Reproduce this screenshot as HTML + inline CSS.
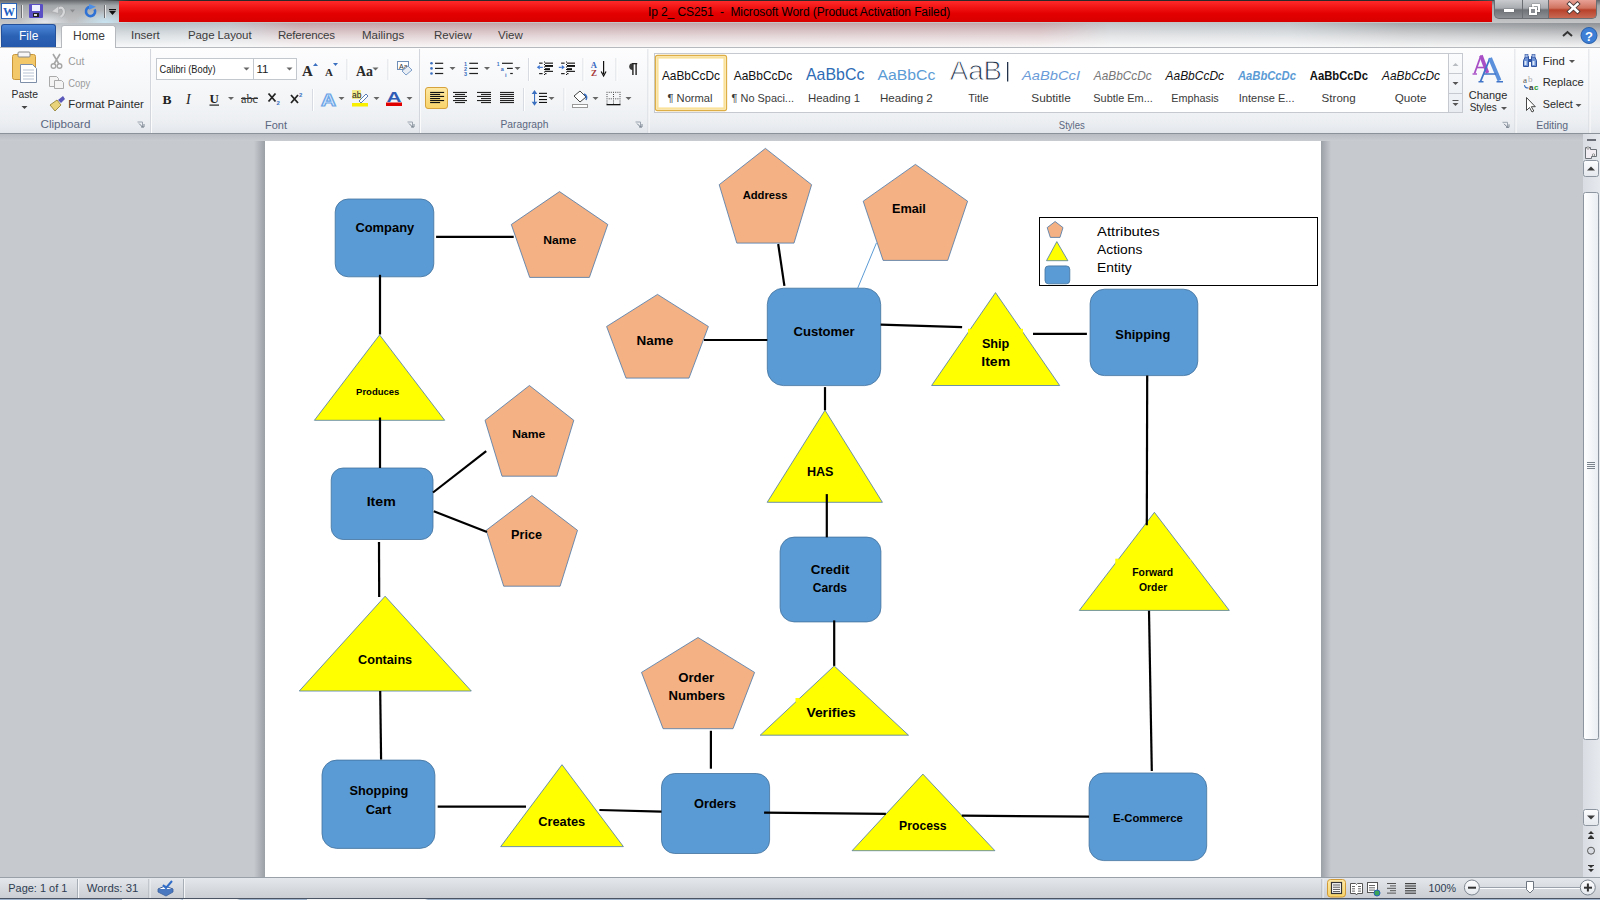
<!DOCTYPE html>
<html><head><meta charset="utf-8">
<style>
*{margin:0;padding:0;box-sizing:border-box}
html,body{width:1600px;height:900px;overflow:hidden;background:#c6c9ce;font-family:"Liberation Sans",sans-serif;font-size:11px;color:#1e395b}
.a{position:absolute}
.t{position:absolute;white-space:nowrap;line-height:1}
#title{left:0;top:0;width:1600px;height:23px;background:radial-gradient(ellipse 30px 12px at 105px 22px,rgba(200,230,245,.9),rgba(200,230,245,0)),radial-gradient(ellipse 25px 10px at 45px 22px,rgba(235,240,245,.8),rgba(235,240,245,0)),linear-gradient(#63676b,#a5a8ab 25%,#b4b6b8 60%,#c3c5c7)}
#red{left:119px;top:1px;width:1373px;height:21px;background:linear-gradient(#ff2a2a,#e40000 60%,#d80000)}
#tabs{left:0;top:23px;width:1600px;height:24px;background:linear-gradient(rgba(255,255,255,0),rgba(255,255,255,.55) 55%,rgba(255,255,255,.9)),linear-gradient(90deg,#c4c6c8 0,#b5bfc6 140px,#bcc3c9 230px,#c3a3a8 300px,#c6a7ab 1040px,#c3c6ca 1110px,#bfc5ca 1290px,#a4a7aa 1400px,#8e9195 1600px)}
#ribbon{left:0;top:47px;width:1600px;height:86px;background:linear-gradient(#fdfdfe,#f3f5f7 60%,#e9ecf0);border-top:1px solid #b6babf}
#rbot{left:0;top:133px;width:1600px;height:1px;background:#8c929a}
#doc{left:0;top:134px;width:1583px;height:743px;background:#c6c9ce}
#page{left:265px;top:141px;width:1056px;height:736px;background:#fff}
#status{left:0;top:877px;width:1600px;height:23px;background:linear-gradient(#e4e7eb,#d6dade 50%,#c9cdd3);border-top:1px solid #9aa0a8}
.gl{position:absolute;top:118px;font-size:11.5px;color:#3b4a63;text-align:center}
.sep{position:absolute;width:1px;background:linear-gradient(rgba(200,204,210,0),#c8ccd2 20%,#c8ccd2 80%,rgba(200,204,210,0))}
.gsep{position:absolute;top:49px;height:84px;width:1px;background:#d5d9de;box-shadow:1px 0 0 #fff}
.dd{position:absolute;width:0;height:0;border-left:3px solid transparent;border-right:3px solid transparent;border-top:3px solid #444}
</style></head><body>
<div class="a" id="title"></div>
<div class="a" id="red"></div>
<div class="t" style="left:648px;top:6px;font-size:12px;color:#000;letter-spacing:-0.1px">Ip 2_ CS251&nbsp; -&nbsp; Microsoft Word (Product Activation Failed)</div>
<div class="a" style="left:100px;top:0;width:1400px;height:1px;background:linear-gradient(90deg,rgba(40,40,40,0),#2a2a2a 30px,#2a2a2a 1370px,rgba(40,40,40,.3))"></div>
<div class="a" id="tabs"></div>
<div class="a" id="ribbon"></div>

<!-- QAT -->
<svg class="a" style="left:0;top:0" width="120" height="23">
 <rect x="1.5" y="3.5" width="15" height="15" fill="#fff" stroke="#2a63b8"/>
 <text x="3" y="16" font-family="Liberation Serif" font-weight="bold" font-size="13" fill="#1f5fc4" textLength="12" lengthAdjust="spacingAndGlyphs">W</text>
 <line x1="21.5" y1="5" x2="21.5" y2="18" stroke="#6d6f72"/><line x1="22.5" y1="5" x2="22.5" y2="18" stroke="#e8e8e8"/>
 <rect x="29" y="4" width="14" height="14" rx="1" fill="#5a4fc4"/>
 <rect x="32" y="5" width="8" height="6" fill="#eef0ff"/>
 <rect x="33" y="13" width="6" height="4" fill="#222"/><rect x="34" y="14" width="3" height="2" fill="#ddd"/>
 <path d="M57 10 Q61 5.5 63.5 9.5 Q65 14 60.5 17" fill="none" stroke="#8e9093" stroke-width="3.4" opacity=".45"/><path d="M57 10 Q61 5.5 63.5 9.5 Q65 14 60.5 17" fill="none" stroke="#d6d7d9" stroke-width="2.2"/>
 <path d="M51.5 11.5 L58.5 6 L58.5 13.5 Z" fill="#d6d7d9" stroke="#a2a4a7" stroke-width=".6"/>
 <path d="M70 9.5 L75 9.5 L72.5 12.5 Z" fill="#8a8c8f"/>
 <path d="M94.6 9.3 A4.6 4.6 0 1 1 90 6.9" fill="none" stroke="#2f72d6" stroke-width="2.6"/>
 <path d="M89 4 L96 6.8 L89 9.8 Z" fill="#4d8fe6"/>
 <line x1="104.5" y1="5" x2="104.5" y2="18" stroke="#6d6f72"/><line x1="105.5" y1="5" x2="105.5" y2="18" stroke="#e8e8e8"/>
 <rect x="109" y="9" width="7" height="1.2" fill="#111"/><path d="M109 11 L116 11 L112.5 15 Z" fill="#111"/>
</svg>
<!-- window buttons -->
<div class="a" style="left:1494px;top:0;width:103px;height:19px;border:1px solid #6b6e72;border-top:none;border-radius:0 0 5px 5px;background:linear-gradient(#c9cbce,#a9acb0 45%,#6f7378 55%,#8d9196);overflow:hidden">
 <div class="a" style="left:54px;top:0;width:48px;height:18px;background:linear-gradient(#e8a196,#d0735f 45%,#b8412a 55%,#c86a55)"></div>
 <div class="a" style="left:27px;top:0;width:1px;height:18px;background:#6b6e72"></div>
 <div class="a" style="left:53px;top:0;width:1px;height:18px;background:#6b6e72"></div>
 <div class="a" style="left:9px;top:9px;width:10px;height:3px;background:#fff;box-shadow:0 0 1px #333"></div>
 <div class="a" style="left:37px;top:4px;width:8px;height:8px;border:2px solid #fff;box-shadow:0 0 1px #333"></div>
 <div class="a" style="left:34px;top:7px;width:8px;height:8px;border:2px solid #fff;box-shadow:0 0 1px #333;background:#8a8e93"></div>
 <svg class="a" style="left:71px;top:1px" width="16" height="14"><path d="M3.5 3 L11.5 10.5 M11.5 3 L3.5 10.5" stroke="#4a3a3a" stroke-width="4.4" stroke-linecap="square"/><path d="M3.5 3 L11.5 10.5 M11.5 3 L3.5 10.5" stroke="#fff" stroke-width="2.6" stroke-linecap="square"/></svg>
</div>
<!-- tabs -->
<div class="a" style="left:1px;top:24px;width:55px;height:23px;border-radius:3px 3px 0 0;background:linear-gradient(#4c87d9,#2c62b4 50%,#2559ab);border:1px solid #24509a;border-bottom:none"></div>
<div class="t" style="left:19px;top:30px;font-size:12px;color:#fff">File</div>
<div class="a" style="left:61px;top:25px;width:55px;height:23px;border-radius:3px 3px 0 0;background:#fff;border:1px solid #b6babf;border-bottom:none"></div>
<div class="t" style="left:73px;top:30px;font-size:12px;color:#3c3c3c">Home</div>
<div class="a" style="left:62px;top:46px;width:53px;height:3px;background:#fff"></div>
<div class="t" style="left:131px;top:30px;font-size:11.5px;color:#3c3c3c">Insert</div>
<div class="t" style="left:188px;top:30px;font-size:11.5px;color:#3c3c3c;letter-spacing:-0.1px">Page Layout</div>
<div class="t" style="left:278px;top:30px;font-size:11.5px;color:#3c3c3c;letter-spacing:-0.2px">References</div>
<div class="t" style="left:362px;top:30px;font-size:11.5px;color:#3c3c3c">Mailings</div>
<div class="t" style="left:434px;top:30px;font-size:11.5px;color:#3c3c3c">Review</div>
<div class="t" style="left:498px;top:30px;font-size:11.5px;color:#3c3c3c">View</div>
<svg class="a" style="left:1560px;top:26px" width="40" height="20">
 <path d="M3 10 L7.5 6 L12 10" fill="none" stroke="#333" stroke-width="2"/>
 <circle cx="29" cy="9.5" r="8" fill="#3d7fd6" stroke="#2a5fa8"/>
 <text x="29" y="14.5" text-anchor="middle" font-size="13" font-weight="bold" fill="#fff">?</text>
</svg>

<!--RIBBON-->
<svg class="a" style="left:0;top:0" width="1600" height="134" font-family="Liberation Sans, sans-serif"><defs><linearGradient id="lb" x1="0" y1="0" x2="0" y2="1"><stop offset="0" stop-color="#eef0f3" stop-opacity="0"/><stop offset="1" stop-color="#e2e6eb"/></linearGradient><linearGradient id="gold" x1="0" y1="0" x2="0" y2="1"><stop offset="0" stop-color="#fde8a4"/><stop offset="1" stop-color="#f9d36a"/></linearGradient><linearGradient id="sb" x1="0" y1="0" x2="0" y2="1"><stop offset="0" stop-color="#fbfcfd"/><stop offset="1" stop-color="#e9edf2"/></linearGradient></defs>
<rect x="0" y="117" width="1600" height="16" fill="url(#lb)"/>
<rect x="12.5" y="54.5" width="23" height="25" rx="2" fill="#f2c869" stroke="#c9973a"/>
<rect x="18" y="52" width="12" height="5" rx="1" fill="#f6f6f6" stroke="#888"/>
<path d="M20.5 64.5 h12 l4 4 v14 h-16 z" fill="#fff" stroke="#7d8fa8"/>
<line x1="23" y1="70" x2="34" y2="70" stroke="#b9c4d4"/>
<line x1="23" y1="73" x2="34" y2="73" stroke="#b9c4d4"/>
<line x1="23" y1="76" x2="34" y2="76" stroke="#b9c4d4"/>
<line x1="23" y1="79" x2="34" y2="79" stroke="#b9c4d4"/>
<text x="11.5" y="98.3" font-size="11.8" fill="#2b2b2b" text-anchor="start" textLength="26.5" lengthAdjust="spacingAndGlyphs" >Paste</text>
<path d="M21.5 106.0 h6 l-3 3 z" fill="#444"/>
<path d="M53 54 L59 64 M60 54 L54 64" stroke="#a6a6a6" stroke-width="1.6" fill="none"/><circle cx="53.5" cy="66" r="2.3" fill="none" stroke="#a6a6a6" stroke-width="1.4"/><circle cx="59.5" cy="66" r="2.3" fill="none" stroke="#a6a6a6" stroke-width="1.4"/>
<text x="68.3" y="64.7" font-size="11.5" fill="#9a9a9a" text-anchor="start" textLength="16.0" lengthAdjust="spacingAndGlyphs" >Cut</text>
<path d="M49.5 76.5 h7 l2 2 v8 h-9 z" fill="#f4f4f4" stroke="#aaa"/><path d="M54.5 80.5 h7 l2 2 v6 h-9 z" fill="#f4f4f4" stroke="#aaa"/>
<text x="68.3" y="86.7" font-size="11.5" fill="#9a9a9a" text-anchor="start" textLength="22.0" lengthAdjust="spacingAndGlyphs" >Copy</text>
<path d="M50 105 l7 -5 l4 5 l-6 6 z" fill="#e8d27a" stroke="#8c7a2a" stroke-width=".8"/><path d="M58 100 l5 -4 l2 3 l-4 4 z" fill="#5a58b8"/>
<text x="68.3" y="108.3" font-size="11.5" fill="#2b2b2b" text-anchor="start" textLength="75.5" lengthAdjust="spacingAndGlyphs" >Format Painter</text>
<text x="65.5" y="128.3" font-size="11.5" fill="#5b6780" text-anchor="middle" textLength="50.0" lengthAdjust="spacingAndGlyphs" >Clipboard</text>
<path d="M137.5 122.0 h5 v5" fill="none" stroke="#9aa3ae" stroke-width="1"/><path d="M139.0 123.5 l4 4 M141.0 127.0 h3 v-3" fill="none" stroke="#7b8591"/>
<rect x="150.0" y="49" width="1" height="84" fill="#d3d7dd"/><rect x="151.0" y="49" width="1" height="84" fill="#fbfbfc"/>
<rect x="156.5" y="58.5" width="97" height="21" fill="#fff" stroke="#c3c8cf"/><rect x="253.5" y="58.5" width="43" height="21" fill="#fff" stroke="#c3c8cf"/>
<text x="159.5" y="72.9" font-size="11.5" fill="#1b1b1b" text-anchor="start" textLength="56.0" lengthAdjust="spacingAndGlyphs" >Calibri (Body)</text>
<path d="M243.5 67.5 h6 l-3 3 z" fill="#666"/>
<path d="M286.5 67.5 h6 l-3 3 z" fill="#666"/>
<text x="256.5" y="72.9" font-size="11.5" fill="#1b1b1b" text-anchor="start" >11</text>
<text x="302" y="76" font-family="Liberation Serif" font-weight="bold" font-size="15" fill="#2a2a2a">A</text><path d="M313 66 l2.5 -3 l2.5 3 z" fill="#3a6fc0"/>
<text x="325" y="76" font-family="Liberation Serif" font-weight="bold" font-size="11" fill="#2a2a2a">A</text><path d="M333 63 h5 l-2.5 3 z" fill="#3a6fc0"/>
<rect x="346.5" y="59.0" width="1" height="21.0" fill="#d8dce2"/><rect x="347.5" y="59.0" width="1" height="21.0" fill="#fff"/>
<text x="356" y="76" font-family="Liberation Serif" font-weight="bold" font-size="14" fill="#2a2a2a" textLength="17" lengthAdjust="spacingAndGlyphs">Aa</text>
<path d="M372.5 67.5 h6 l-3 3 z" fill="#666"/>
<rect x="387.5" y="59.0" width="1" height="21.0" fill="#d8dce2"/><rect x="388.5" y="59.0" width="1" height="21.0" fill="#fff"/>
<rect x="397.5" y="61.5" width="11" height="8" fill="#fff" stroke="#6f8fb8"/><text x="399" y="68.5" font-size="7" fill="#333">Aa</text><path d="M402 71 l6 -5 l4 4 l-6 5 z" fill="#e9eef5" stroke="#7a9cc8"/>
<text x="162.5" y="103.5" font-family="Liberation Serif" font-weight="bold" font-size="13.5" fill="#222">B</text>
<text x="186" y="103.5" font-family="Liberation Serif" font-style="italic" font-size="14" fill="#222">I</text>
<text x="209.5" y="102.5" font-family="Liberation Serif" font-weight="bold" font-size="13" fill="#222">U</text><rect x="209.5" y="104.5" width="9.5" height="1.2" fill="#222"/>
<path d="M228.0 97.0 h6 l-3 3 z" fill="#666"/>
<text x="241" y="102.5" font-family="Liberation Serif" font-size="11.5" fill="#333" textLength="17" lengthAdjust="spacingAndGlyphs">abc</text><rect x="241" y="98" width="17" height="1" fill="#333"/>
<path d="M268.5 93.5 l7 8 M275.5 93.5 l-7 8" stroke="#222" stroke-width="1.8"/><text x="276.5" y="105" font-size="6" font-weight="bold" fill="#3a6fc0">2</text>
<path d="M291 95 l7 8 M298 95 l-7 8" stroke="#222" stroke-width="1.8"/><text x="299" y="97" font-size="6" font-weight="bold" fill="#3a6fc0">2</text>
<rect x="312.0" y="89.0" width="1" height="22.0" fill="#d8dce2"/><rect x="313.0" y="89.0" width="1" height="22.0" fill="#fff"/>
<text x="321" y="106" font-size="17" font-weight="bold" fill="#dcecff" stroke="#6ea6e6" stroke-width="1.2" textLength="15" lengthAdjust="spacingAndGlyphs">A</text>
<path d="M338.5 97.0 h6 l-3 3 z" fill="#666"/>
<rect x="352" y="90" width="9" height="9" fill="#f3ec88"/><text x="352" y="98" font-size="8.5" fill="#222">ab</text><path d="M359 101 l7 -7 l2 2 l-7 7 z" fill="#fff" stroke="#5b7db5"/><rect x="352" y="103" width="16" height="3.5" fill="#f8f000"/>
<path d="M373.5 97.0 h6 l-3 3 z" fill="#666"/>
<text x="386.5" y="101.5" font-size="15" font-weight="bold" fill="#2f5cb5" textLength="15" lengthAdjust="spacingAndGlyphs">A</text><rect x="386" y="102.5" width="16" height="3.5" fill="#e00000"/>
<path d="M406.5 97.0 h6 l-3 3 z" fill="#666"/>
<text x="276.0" y="128.5" font-size="11.5" fill="#5b6780" text-anchor="middle" textLength="22.0" lengthAdjust="spacingAndGlyphs" >Font</text>
<path d="M407.5 122.0 h5 v5" fill="none" stroke="#9aa3ae" stroke-width="1"/><path d="M409.0 123.5 l4 4 M411.0 127.0 h3 v-3" fill="none" stroke="#7b8591"/>
<rect x="419.0" y="49" width="1" height="84" fill="#d3d7dd"/><rect x="420.0" y="49" width="1" height="84" fill="#fbfbfc"/>
<circle cx="431.5" cy="63.3" r="1.3" fill="#3a6fc0"/>
<circle cx="431.5" cy="68.4" r="1.3" fill="#3a6fc0"/>
<circle cx="431.5" cy="73.5" r="1.3" fill="#3a6fc0"/>
<rect x="435.0" y="62.7" width="8.2" height="1.2" fill="#222"/>
<rect x="435.0" y="67.8" width="8.2" height="1.2" fill="#222"/>
<rect x="435.0" y="72.9" width="8.2" height="1.2" fill="#222"/>
<path d="M449.5 67.0 h6 l-3 3 z" fill="#666"/>
<text x="464" y="65.5" font-size="5.5" font-weight="bold" fill="#3a6fc0">1</text>
<text x="464" y="70.6" font-size="5.5" font-weight="bold" fill="#3a6fc0">2</text>
<text x="464" y="75.7" font-size="5.5" font-weight="bold" fill="#3a6fc0">3</text>
<rect x="469.3" y="62.7" width="8.7" height="1.2" fill="#222"/>
<rect x="469.3" y="67.8" width="8.7" height="1.2" fill="#222"/>
<rect x="469.3" y="72.9" width="8.7" height="1.2" fill="#222"/>
<path d="M484.0 67.0 h6 l-3 3 z" fill="#666"/>
<text x="496.8" y="65.5" font-size="5" font-weight="bold" fill="#3a6fc0">1</text><text x="500.8" y="71" font-size="5.5" font-weight="bold" fill="#3a6fc0">a</text><text x="505" y="76.5" font-size="5.5" font-weight="bold" fill="#3a6fc0">i</text>
<rect x="502" y="62.7" width="10.8" height="1.2" fill="#222"/><rect x="507" y="67.8" width="5.8" height="1.2" fill="#222"/><rect x="510.2" y="72.9" width="2.6" height="1.2" fill="#222"/>
<path d="M514.5 67.0 h6 l-3 3 z" fill="#666"/>
<rect x="528.0" y="58.0" width="1" height="23.0" fill="#d8dce2"/><rect x="529.0" y="58.0" width="1" height="23.0" fill="#fff"/>
<rect x="539.1" y="62.6" width="3.5" height="1.1" fill="#111"/><rect x="539.1" y="73.1" width="3.5" height="1.1" fill="#111"/>
<rect x="545.0" y="62.6" width="8" height="1.1" fill="#111"/><rect x="545.0" y="65" width="8" height="1.9" fill="#111"/><rect x="545.0" y="68.2" width="5" height="1.9" fill="#111"/><rect x="545.0" y="70.8" width="8" height="1.1" fill="#111"/><rect x="545.0" y="73.1" width="1.5" height="1.1" fill="#111"/>
<line x1="544.5" y1="61.5" x2="544.5" y2="76.5" stroke="#111" stroke-width="1" stroke-dasharray="1 1.5"/>
<path d="M539.8 65 l-3 2.3 l3 2.3 z" fill="#3d74d0"/><rect x="539.8" y="66.8" width="3" height="1.1" fill="#3d74d0"/>
<rect x="561.1" y="62.6" width="3.5" height="1.1" fill="#111"/><rect x="561.1" y="73.1" width="3.5" height="1.1" fill="#111"/>
<rect x="567.0" y="62.6" width="8" height="1.1" fill="#111"/><rect x="567.0" y="65" width="8" height="1.9" fill="#111"/><rect x="567.0" y="68.2" width="5" height="1.9" fill="#111"/><rect x="567.0" y="70.8" width="8" height="1.1" fill="#111"/><rect x="567.0" y="73.1" width="1.5" height="1.1" fill="#111"/>
<line x1="566.5" y1="61.5" x2="566.5" y2="76.5" stroke="#111" stroke-width="1" stroke-dasharray="1 1.5"/>
<path d="M561.8 65 l3 2.3 l-3 2.3 z" fill="#3d74d0"/><rect x="558.8" y="66.8" width="3" height="1.1" fill="#3d74d0"/>
<rect x="582.5" y="58.0" width="1" height="23.0" fill="#d8dce2"/><rect x="583.5" y="58.0" width="1" height="23.0" fill="#fff"/>
<text x="590.8" y="67.8" font-family="Liberation Serif" font-size="8.5" font-weight="bold" fill="#3466c2">A</text><text x="591" y="76.2" font-family="Liberation Serif" font-size="9" font-weight="bold" fill="#a63838">Z</text><path d="M603.6 61 v13" stroke="#111" stroke-width="1.2"/><path d="M601.2 71.5 l2.4 4.5 l2.4 -4.5" fill="none" stroke="#111" stroke-width="1.2"/>
<rect x="615.5" y="58.0" width="1" height="23.0" fill="#d8dce2"/><rect x="616.5" y="58.0" width="1" height="23.0" fill="#fff"/>
<path d="M632.6 63.2 a3.3 3.3 0 0 0 0 6.8 z" fill="#3a3a3a"/><rect x="632.2" y="63" width="5" height="1.3" fill="#222"/><rect x="632.2" y="63" width="1.4" height="12" fill="#222"/><rect x="635.4" y="63" width="1.4" height="12" fill="#222"/>
<rect x="425.5" y="87.5" width="22" height="21" rx="2.5" fill="url(#gold)" stroke="#d6a23c"/>
<rect x="430.1" y="91.9" width="14" height="1.1" fill="#111"/>
<rect x="453.0" y="91.9" width="14" height="1.1" fill="#222"/>
<rect x="477.0" y="91.9" width="14" height="1.1" fill="#222"/>
<rect x="500" y="91.9" width="14" height="1.1" fill="#222"/>
<rect x="430.1" y="93.9" width="10" height="1.1" fill="#111"/>
<rect x="455.0" y="93.9" width="10" height="1.1" fill="#222"/>
<rect x="481.0" y="93.9" width="10" height="1.1" fill="#222"/>
<rect x="500" y="93.9" width="14" height="1.1" fill="#222"/>
<rect x="430.1" y="95.9" width="14" height="1.1" fill="#111"/>
<rect x="453.0" y="95.9" width="14" height="1.1" fill="#222"/>
<rect x="477.0" y="95.9" width="14" height="1.1" fill="#222"/>
<rect x="500" y="95.9" width="14" height="1.1" fill="#222"/>
<rect x="430.1" y="98.0" width="10" height="1.1" fill="#111"/>
<rect x="455.0" y="98.0" width="10" height="1.1" fill="#222"/>
<rect x="481.0" y="98.0" width="10" height="1.1" fill="#222"/>
<rect x="500" y="98.0" width="14" height="1.1" fill="#222"/>
<rect x="430.1" y="100.0" width="14" height="1.1" fill="#111"/>
<rect x="453.0" y="100.0" width="14" height="1.1" fill="#222"/>
<rect x="477.0" y="100.0" width="14" height="1.1" fill="#222"/>
<rect x="500" y="100.0" width="14" height="1.1" fill="#222"/>
<rect x="430.1" y="102.0" width="10" height="1.1" fill="#111"/>
<rect x="455.0" y="102.0" width="10" height="1.1" fill="#222"/>
<rect x="481.0" y="102.0" width="10" height="1.1" fill="#222"/>
<rect x="500" y="102.0" width="14" height="1.1" fill="#222"/>
<rect x="523.0" y="88.0" width="1" height="23.0" fill="#d8dce2"/><rect x="524.0" y="88.0" width="1" height="23.0" fill="#fff"/>
<path d="M534.5 90 l-2.8 4 h5.6 z M534.5 105.8 l-2.8 -4 h5.6 z" fill="#3a6fc0"/><rect x="534" y="93" width="1.1" height="10" fill="#3a6fc0"/>
<rect x="539" y="92.8" width="8" height="1.1" fill="#111"/>
<rect x="539" y="95.9" width="8" height="1.1" fill="#111"/>
<rect x="539" y="99.0" width="8" height="1.1" fill="#111"/>
<rect x="539" y="101.9" width="8" height="1.1" fill="#111"/>
<path d="M548.5 97.0 h6 l-3 3 z" fill="#666"/>
<rect x="563.5" y="88.0" width="1" height="23.0" fill="#d8dce2"/><rect x="564.5" y="88.0" width="1" height="23.0" fill="#fff"/>
<path d="M574 96 l6 -5 l6 6 l-6 5 z" fill="#fff" stroke="#444"/><path d="M584 94 q4 2 2 6" fill="none" stroke="#3a6fc0" stroke-width="1.5"/><rect x="572.5" y="104.5" width="15" height="3" fill="#fff" stroke="#999"/>
<path d="M592.5 97.0 h6 l-3 3 z" fill="#666"/>
<rect x="606.5" y="91.8" width="1" height="1" fill="#444"/><rect x="606.5" y="94.0" width="1" height="1" fill="#444"/><rect x="606.5" y="96.1" width="1" height="1" fill="#444"/><rect x="606.5" y="98.3" width="1" height="1" fill="#444"/><rect x="606.5" y="100.5" width="1" height="1" fill="#444"/><rect x="606.5" y="102.6" width="1" height="1" fill="#444"/><rect x="608.7" y="91.8" width="1" height="1" fill="#444"/><rect x="608.7" y="98.3" width="1" height="1" fill="#444"/><rect x="610.8" y="91.8" width="1" height="1" fill="#444"/><rect x="610.8" y="98.3" width="1" height="1" fill="#444"/><rect x="613.0" y="91.8" width="1" height="1" fill="#444"/><rect x="613.0" y="94.0" width="1" height="1" fill="#444"/><rect x="613.0" y="96.1" width="1" height="1" fill="#444"/><rect x="613.0" y="98.3" width="1" height="1" fill="#444"/><rect x="613.0" y="100.5" width="1" height="1" fill="#444"/><rect x="613.0" y="102.6" width="1" height="1" fill="#444"/><rect x="615.2" y="91.8" width="1" height="1" fill="#444"/><rect x="615.2" y="98.3" width="1" height="1" fill="#444"/><rect x="617.4" y="91.8" width="1" height="1" fill="#444"/><rect x="617.4" y="98.3" width="1" height="1" fill="#444"/><rect x="619.5" y="91.8" width="1" height="1" fill="#444"/><rect x="619.5" y="94.0" width="1" height="1" fill="#444"/><rect x="619.5" y="96.1" width="1" height="1" fill="#444"/><rect x="619.5" y="98.3" width="1" height="1" fill="#444"/><rect x="619.5" y="100.5" width="1" height="1" fill="#444"/><rect x="619.5" y="102.6" width="1" height="1" fill="#444"/><rect x="606.5" y="104" width="14" height="1.3" fill="#111"/>
<path d="M625.5 97.0 h6 l-3 3 z" fill="#666"/>
<text x="524.5" y="128.4" font-size="11.5" fill="#5b6780" text-anchor="middle" textLength="48.0" lengthAdjust="spacingAndGlyphs" >Paragraph</text>
<path d="M635.5 122.0 h5 v5" fill="none" stroke="#9aa3ae" stroke-width="1"/><path d="M637.0 123.5 l4 4 M639.0 127.0 h3 v-3" fill="none" stroke="#7b8591"/>
<rect x="647.5" y="49" width="1" height="84" fill="#d3d7dd"/><rect x="648.5" y="49" width="1" height="84" fill="#fbfbfc"/>
<rect x="654.5" y="53.5" width="808" height="59" fill="#fff" stroke="#c6cad0"/>
<rect x="1448.5" y="53.5" width="14" height="59" fill="url(#sb)" stroke="#c6cad0"/><line x1="1449" y1="73.5" x2="1462" y2="73.5" stroke="#c6cad0"/><line x1="1449" y1="93.5" x2="1462" y2="93.5" stroke="#c6cad0"/>
<path d="M1452.5 66 l3 -3 l3 3 z" fill="#b8bcc2"/><path d="M1452.5 82 h6 l-3 3 z" fill="#555"/><rect x="1452.5" y="100" width="6" height="1" fill="#555"/><path d="M1452.5 103 h6 l-3 3 z" fill="#555"/>
<rect x="655.5" y="55.5" width="71" height="55" rx="2" fill="#fff" stroke="#dcae45" stroke-width="1.3"/><rect x="657.5" y="57.5" width="67" height="51" fill="none" stroke="#fbe29a" stroke-width="2.2"/>
<text x="661.9" y="80.3" font-size="13" fill="#111" textLength="58.1" lengthAdjust="spacingAndGlyphs">AaBbCcDc</text>
<text x="667.5" y="102.2" font-size="11.5" fill="#3a3a3a" text-anchor="start" textLength="45.0" lengthAdjust="spacingAndGlyphs" >&#182; Normal</text>
<text x="733.7" y="80.3" font-size="13" fill="#111" textLength="58.5" lengthAdjust="spacingAndGlyphs">AaBbCcDc</text>
<text x="731.6" y="102.2" font-size="11.5" fill="#3a3a3a" text-anchor="start" textLength="62.4" lengthAdjust="spacingAndGlyphs" >&#182; No Spaci...</text>
<text x="805.9" y="80.3" font-size="17" fill="#2e6cb5" textLength="58.5" lengthAdjust="spacingAndGlyphs">AaBbCc</text>
<text x="808.0" y="102.2" font-size="11.5" fill="#3a3a3a" text-anchor="start" textLength="52.0" lengthAdjust="spacingAndGlyphs" >Heading 1</text>
<text x="877.5" y="80.3" font-size="15.5" fill="#5b9bd5" textLength="57.8" lengthAdjust="spacingAndGlyphs">AaBbCc</text>
<text x="880.0" y="102.2" font-size="11.5" fill="#3a3a3a" text-anchor="start" textLength="52.8" lengthAdjust="spacingAndGlyphs" >Heading 2</text>
<text x="949.7" y="80.3" font-size="27" fill="#22324a" stroke="#fff" stroke-width="0.9" textLength="52.3" lengthAdjust="spacingAndGlyphs">AaB</text>
<text x="968.2" y="102.2" font-size="11.5" fill="#3a3a3a" text-anchor="start" textLength="20.4" lengthAdjust="spacingAndGlyphs" >Title</text>
<text x="1022.0" y="80.3" font-size="13" font-style="italic" fill="#6a9bd8" textLength="58.0" lengthAdjust="spacingAndGlyphs">AaBbCcI</text>
<text x="1031.3" y="102.2" font-size="11.5" fill="#3a3a3a" text-anchor="start" textLength="39.4" lengthAdjust="spacingAndGlyphs" >Subtitle</text>
<text x="1093.8" y="80.3" font-size="13" font-style="italic" fill="#777" textLength="57.8" lengthAdjust="spacingAndGlyphs">AaBbCcDc</text>
<text x="1093.3" y="102.2" font-size="11.5" fill="#3a3a3a" text-anchor="start" textLength="59.5" lengthAdjust="spacingAndGlyphs" >Subtle Em...</text>
<text x="1165.5" y="80.3" font-size="13" font-style="italic" fill="#111" textLength="58.5" lengthAdjust="spacingAndGlyphs">AaBbCcDc</text>
<text x="1171.3" y="102.2" font-size="11.5" fill="#3a3a3a" text-anchor="start" textLength="47.4" lengthAdjust="spacingAndGlyphs" >Emphasis</text>
<text x="1237.9" y="80.3" font-size="13" font-style="italic" font-weight="bold" fill="#5b9bd5" textLength="58.1" lengthAdjust="spacingAndGlyphs">AaBbCcDc</text>
<text x="1238.8" y="102.2" font-size="11.5" fill="#3a3a3a" text-anchor="start" textLength="55.7" lengthAdjust="spacingAndGlyphs" >Intense E...</text>
<text x="1309.8" y="80.3" font-size="13" font-weight="bold" fill="#111" textLength="58.2" lengthAdjust="spacingAndGlyphs">AaBbCcDc</text>
<text x="1321.6" y="102.2" font-size="11.5" fill="#3a3a3a" text-anchor="start" textLength="34.1" lengthAdjust="spacingAndGlyphs" >Strong</text>
<text x="1382.0" y="80.3" font-size="13" font-style="italic" fill="#111" textLength="58.0" lengthAdjust="spacingAndGlyphs">AaBbCcDc</text>
<text x="1394.7" y="102.2" font-size="11.5" fill="#3a3a3a" text-anchor="start" textLength="31.9" lengthAdjust="spacingAndGlyphs" >Quote</text>
<rect x="1007" y="62" width="1.3" height="19.5" fill="#22324a"/><rect x="949" y="55" width="60" height="6.5" fill="#fff"/>
<text x="1071.8" y="128.9" font-size="11.5" fill="#5b6780" text-anchor="middle" textLength="26.0" lengthAdjust="spacingAndGlyphs" >Styles</text>
<path d="M1502.5 122.3 h5 v5" fill="none" stroke="#9aa3ae" stroke-width="1"/><path d="M1504.0 123.8 l4 4 M1506.0 127.3 h3 v-3" fill="none" stroke="#7b8591"/>
<g fill="none" stroke-linecap="butt"><path d="M1474.5 73.5 L1481 55.5" stroke="#a84fc6" stroke-width="1.8"/><path d="M1481 55.5 L1487.5 73" stroke="#a84fc6" stroke-width="3.6"/><path d="M1476.5 67.5 h8" stroke="#a84fc6" stroke-width="1.6"/><path d="M1472.5 74 h4.5" stroke="#a84fc6" stroke-width="1.4"/><path d="M1480.5 81.5 L1490 58" stroke="#3f74c8" stroke-width="1.8"/><path d="M1490 58 L1499.5 80.5" stroke="#5a90dc" stroke-width="4"/><path d="M1484 74 h12" stroke="#3f74c8" stroke-width="1.5"/><path d="M1478.5 81.8 h5 M1496.5 81.8 h6.5" stroke="#3f74c8" stroke-width="1.4"/></g>
<text x="1468.8" y="98.6" font-size="11.5" fill="#2b2b2b" text-anchor="start" textLength="38.5" lengthAdjust="spacingAndGlyphs" >Change</text>
<text x="1469.7" y="111.4" font-size="11.5" fill="#2b2b2b" text-anchor="start" textLength="27.0" lengthAdjust="spacingAndGlyphs" >Styles</text>
<path d="M1501.0 107.0 h6 l-3 3 z" fill="#555"/>
<rect x="1514.5" y="49" width="1" height="84" fill="#d3d7dd"/><rect x="1515.5" y="49" width="1" height="84" fill="#fbfbfc"/>
<path d="M1523.5 66.5 v-6 l2 -4 h3 v10 z M1531.5 66.5 v-10 h3 l2 4 v6 z" fill="#6d93d6" stroke="#2f52a0"/><rect x="1525" y="54.5" width="3" height="3" fill="#9fb8e6" stroke="#2f52a0" stroke-width=".6"/><rect x="1532" y="54.5" width="3" height="3" fill="#9fb8e6" stroke="#2f52a0" stroke-width=".6"/><rect x="1528.5" y="59" width="3" height="3" fill="#2f52a0"/><rect x="1524.5" y="61" width="2" height="4" fill="#dce7f8"/><rect x="1532.5" y="61" width="2" height="4" fill="#dce7f8"/>
<text x="1542.8" y="64.5" font-size="11.5" fill="#2b2b2b" text-anchor="start" textLength="22.0" lengthAdjust="spacingAndGlyphs" >Find</text>
<path d="M1569.0 60.0 h6 l-3 3 z" fill="#555"/>
<text x="1523" y="83" font-family="Liberation Serif" font-size="9" fill="#555">a</text><text x="1528" y="82" font-family="Liberation Serif" font-size="9" fill="#aaa">b</text><text x="1529" y="90" font-size="8" font-weight="bold" fill="#333">a</text><text x="1534" y="90" font-size="8" font-weight="bold" fill="#2a9a2a">c</text><path d="M1524.5 85 q0 3 4 3" fill="none" stroke="#3a6fc0" stroke-width="1.1"/>
<text x="1542.8" y="86.4" font-size="11.5" fill="#2b2b2b" text-anchor="start" textLength="41.0" lengthAdjust="spacingAndGlyphs" >Replace</text>
<path d="M1526.5 97.5 v13 l3 -3 l2.5 4.5 l1.8 -1 l-2.5 -4.3 h4 z" fill="#fff" stroke="#333" stroke-width=".9"/>
<text x="1542.8" y="108.4" font-size="11.5" fill="#2b2b2b" text-anchor="start" textLength="30.0" lengthAdjust="spacingAndGlyphs" >Select</text>
<path d="M1575.5 104.0 h6 l-3 3 z" fill="#555"/>
<text x="1552.2" y="128.6" font-size="11.5" fill="#5b6780" text-anchor="middle" textLength="32.0" lengthAdjust="spacingAndGlyphs" >Editing</text>
<rect x="1588.5" y="49" width="1" height="84" fill="#d3d7dd"/><rect x="1589.5" y="49" width="1" height="84" fill="#fbfbfc"/>
</svg>
<!--/RIBBON-->
<div class="a" id="rbot"></div>
<div class="a" id="doc"></div>
<div class="a" style="left:254px;top:141px;width:11px;height:736px;background:linear-gradient(90deg,rgba(150,155,162,0),rgba(150,155,162,.9))"></div>
<div class="a" style="left:1321px;top:141px;width:10px;height:736px;background:linear-gradient(90deg,rgba(150,155,162,.9),rgba(150,155,162,0))"></div>
<div class="a" style="left:0;top:134px;width:1583px;height:7px;background:linear-gradient(#b8bcc2,#c9ccd1)"></div>
<div class="a" id="page"></div>
<div class="a" id="status"></div>
<div class="a" style="left:0;top:898px;width:1600px;height:1px;background:#4a5462"></div>
<div class="a" style="left:0;top:899px;width:1600px;height:1px;background:linear-gradient(90deg,#9fb4cc 0,#9fb4cc 122px,#f4f6f8 122px,#f4f6f8 180px,#9fb4cc 183px,#f4f6f8 183px,#f4f6f8 237px,#9fb4cc 240px,#9fb4cc 307px,#f4f6f8 307px,#f4f6f8 425px,#9fb4cc 428px)"></div>
<!--BOTTOM-->
<svg class="a" style="left:0;top:0" width="1600" height="900" font-family="Liberation Sans, sans-serif"><defs>
<linearGradient id="trk" x1="0" y1="0" x2="1" y2="0"><stop offset="0" stop-color="#d9dde3"/><stop offset="1" stop-color="#e6e9ee"/></linearGradient>
<linearGradient id="btn" x1="0" y1="0" x2="0" y2="1"><stop offset="0" stop-color="#fdfdfe"/><stop offset="1" stop-color="#e4e8ed"/></linearGradient>
<linearGradient id="thumb" x1="0" y1="0" x2="1" y2="0"><stop offset="0" stop-color="#ffffff"/><stop offset="1" stop-color="#e9edf2"/></linearGradient>
<linearGradient id="gold2" x1="0" y1="0" x2="0" y2="1"><stop offset="0" stop-color="#fde9a8"/><stop offset="1" stop-color="#f7d46a"/></linearGradient>
</defs>
<rect x="1583" y="134" width="17" height="743" fill="url(#trk)"/>
<rect x="1587" y="139" width="9" height="2" fill="#6b7078"/>
<path d="M1585.5 147.5 h5 v2 h6 v7 h-5 v2 h-6 z" fill="#f3eef3" stroke="#6d7279"/><circle cx="1588" cy="148" r="1.2" fill="#fff" stroke="#555" stroke-width=".6"/><circle cx="1593.5" cy="155" r="1.2" fill="#fff" stroke="#555" stroke-width=".6"/>
<rect x="1583.5" y="160.5" width="15" height="16.0" rx="2" fill="url(#btn)" stroke="#8d96a0"/>
<path d="M1587 170.5 h8 l-4 -4 z" fill="#3c3c3c"/>
<rect x="1583.5" y="192.5" width="15" height="547" rx="2" fill="url(#thumb)" stroke="#8d96a0"/>
<rect x="1587" y="462.0" width="8" height="1" fill="#7b838c"/>
<rect x="1587" y="464.0" width="8" height="1" fill="#7b838c"/>
<rect x="1587" y="466.0" width="8" height="1" fill="#7b838c"/>
<rect x="1587" y="468.0" width="8" height="1" fill="#7b838c"/>
<rect x="1583.5" y="809.5" width="15" height="16.0" rx="2" fill="url(#btn)" stroke="#8d96a0"/>
<path d="M1587 815.5 h8 l-4 4 z" fill="#3c3c3c"/>
<path d="M1588 834 l3 -3 l3 3 z M1588 838 l3 -3 l3 3 z" fill="#333"/><rect x="1588" y="838" width="6" height="1" fill="#333"/>
<circle cx="1591" cy="850.7" r="3.5" fill="#d8dce2" stroke="#555"/>
<path d="M1588 865 h6 l-3 3 z M1588 869 h6 l-3 3 z" fill="#333"/><rect x="1588" y="865" width="6" height="1" fill="#333"/>
<text x="8.3" y="892.0" font-size="11.5" fill="#2e3c52" textLength="59.0" lengthAdjust="spacingAndGlyphs">Page: 1 of 1</text>
<rect x="77.0" y="879" width="1" height="19" fill="#a8aeb6"/><rect x="78.0" y="879" width="1" height="19" fill="#f4f6f8"/>
<text x="86.8" y="892.0" font-size="11.5" fill="#2e3c52" textLength="51.5" lengthAdjust="spacingAndGlyphs">Words: 31</text>
<rect x="148.5" y="879" width="1" height="19" fill="#a8aeb6"/><rect x="149.5" y="879" width="1" height="19" fill="#f4f6f8"/>
<path d="M158 889 l7 -3 l8 3 l-7 4 z" fill="#fff" stroke="#3a5e9c"/><path d="M158 889 v3 l8 4 l7 -4 v-3" fill="#4a78c0" stroke="#3a5e9c" stroke-width=".8"/><path d="M163 885 l3 3 l6 -7" fill="none" stroke="#2f6cc8" stroke-width="2"/>
<rect x="183.0" y="879" width="1" height="19" fill="#a8aeb6"/><rect x="184.0" y="879" width="1" height="19" fill="#f4f6f8"/>
<rect x="1321.5" y="879" width="1" height="19" fill="#a8aeb6"/><rect x="1322.5" y="879" width="1" height="19" fill="#f4f6f8"/>
<rect x="1327.5" y="879.5" width="18" height="17.5" rx="3" fill="url(#gold2)" stroke="#d29a36"/>
<rect x="1331.5" y="882.5" width="10" height="11" fill="#fff" stroke="#333" stroke-width="1.2"/>
<rect x="1333" y="884.5" width="7" height="1" fill="#555"/>
<rect x="1333" y="886.7" width="7" height="1" fill="#555"/>
<rect x="1333" y="888.9" width="7" height="1" fill="#555"/>
<rect x="1333" y="891.1" width="7" height="1" fill="#555"/>
<path d="M1350.5 883.5 h5 l1 1 l1 -1 h5 v10 h-5 l-1 1.5 l-1 -1.5 h-5 z" fill="#fff" stroke="#555"/>
<rect x="1352" y="886.0" width="3" height="1" fill="#666"/><rect x="1358" y="886.0" width="3" height="1" fill="#666"/>
<rect x="1352" y="888.3" width="3" height="1" fill="#666"/><rect x="1358" y="888.3" width="3" height="1" fill="#666"/>
<rect x="1352" y="890.6" width="3" height="1" fill="#666"/><rect x="1358" y="890.6" width="3" height="1" fill="#666"/>
<rect x="1367.5" y="882.5" width="10" height="10" fill="#fff" stroke="#555"/>
<rect x="1369" y="885.0" width="6" height="1" fill="#666"/>
<rect x="1369" y="887.3" width="6" height="1" fill="#666"/>
<rect x="1369" y="889.6" width="6" height="1" fill="#666"/>
<circle cx="1377" cy="893" r="3" fill="#3aa35a" stroke="#2863b8" stroke-width="1"/>
<rect x="1387" y="883.0" width="9" height="1" fill="#555"/>
<rect x="1390" y="885.4" width="6" height="1" fill="#555"/>
<rect x="1387" y="887.8" width="9" height="1" fill="#555"/>
<rect x="1390" y="890.2" width="6" height="1" fill="#555"/>
<rect x="1387" y="892.6" width="9" height="1" fill="#555"/>
<rect x="1405" y="883.0" width="11" height="1.2" fill="#444"/>
<rect x="1405" y="885.4" width="11" height="1.2" fill="#444"/>
<rect x="1405" y="887.8" width="11" height="1.2" fill="#444"/>
<rect x="1405" y="890.2" width="11" height="1.2" fill="#444"/>
<rect x="1405" y="892.6" width="11" height="1.2" fill="#444"/>
<text x="1428.5" y="891.5" font-size="11.5" fill="#2e3c52" textLength="27.5" lengthAdjust="spacingAndGlyphs">100%</text>
<line x1="1480" y1="887.5" x2="1580" y2="887.5" stroke="#9aa1aa"/><line x1="1480" y1="888.5" x2="1580" y2="888.5" stroke="#fbfcfd"/>
<circle cx="1471.9" cy="887.5" r="7.5" fill="url(#btn)" stroke="#7d858f"/><rect x="1468" y="886.7" width="8" height="2" fill="#333"/>
<circle cx="1587.8" cy="887.5" r="7.5" fill="url(#btn)" stroke="#7d858f"/><rect x="1584" y="886.7" width="8" height="2" fill="#333"/><rect x="1586.9" y="883.5" width="2" height="8" fill="#333"/>
<path d="M1526.5 881.5 h7 v8 l-3.5 3.5 l-3.5 -3.5 z" fill="#fff" stroke="#6d7580"/>
</svg>
<!--/BOTTOM-->
<!--DIAGRAM-->
<svg class="a" style="left:0;top:0" width="1600" height="900" viewBox="0 0 1600 900" font-family="Liberation Sans, sans-serif" fill="#000">
<rect x="1039.5" y="217.5" width="278" height="68" fill="#fff" stroke="#000" stroke-width="1"/>
<polygon points="1055.1,221.5 1063.0,227.6 1060.0,237.4 1050.3,237.4 1047.2,227.6" fill="#f4b183" stroke="#4a77a8" stroke-width="0.8"/>
<polygon points="1056.8,241.6 1067.9,260.7 1046.5,260.7" fill="#ffff00" stroke="#4a77a8" stroke-width="0.8"/>
<rect x="1045.0" y="265.9" width="24.8" height="17.9" rx="3.5" fill="#5b9bd5" stroke="#41719c" stroke-width="0.8"/>
<text x="1097.1" y="235.6" font-size="12.5" font-weight="normal" text-anchor="start" textLength="62.5" lengthAdjust="spacingAndGlyphs">Attributes</text>
<text x="1097.1" y="253.8" font-size="12.5" font-weight="normal" text-anchor="start" textLength="45.3" lengthAdjust="spacingAndGlyphs">Actions</text>
<text x="1097.1" y="271.6" font-size="12.5" font-weight="normal" text-anchor="start" textLength="34.6" lengthAdjust="spacingAndGlyphs">Entity</text>
<polygon points="559.5,191.6 607.8,224.5 589.4,277.4 529.7,277.4 511.3,224.5" fill="#f4b183" stroke="#4a77a8" stroke-width="0.8"/>
<polygon points="529.4,385.5 573.8,420.3 556.8,476.2 502.0,476.2 485.0,420.3" fill="#f4b183" stroke="#4a77a8" stroke-width="0.8"/>
<polygon points="531.9,495.5 577.5,530.3 560.1,586.2 503.7,586.2 486.2,530.3" fill="#f4b183" stroke="#4a77a8" stroke-width="0.8"/>
<polygon points="765.4,148.4 811.6,184.7 794.0,243.1 736.8,243.1 719.2,184.7" fill="#f4b183" stroke="#4a77a8" stroke-width="0.8"/>
<polygon points="915.4,164.4 967.6,201.2 947.7,260.4 883.1,260.4 863.2,201.2" fill="#f4b183" stroke="#4a77a8" stroke-width="0.8"/>
<polygon points="657.5,294.4 708.4,326.5 689.0,378.1 626.0,378.1 606.6,326.5" fill="#f4b183" stroke="#4a77a8" stroke-width="0.8"/>
<polygon points="698.0,637.5 754.6,672.4 733.0,728.7 663.1,728.7 641.5,672.4" fill="#f4b183" stroke="#4a77a8" stroke-width="0.8"/>
<rect x="335.2" y="199.0" width="98.6" height="77.8" rx="13.0" fill="#5b9bd5" stroke="#41719c" stroke-width="0.8"/>
<rect x="331.2" y="468.0" width="101.8" height="71.5" rx="11.9" fill="#5b9bd5" stroke="#41719c" stroke-width="0.8"/>
<rect x="322.0" y="760.1" width="112.9" height="88.3" rx="14.7" fill="#5b9bd5" stroke="#41719c" stroke-width="0.8"/>
<rect x="661.5" y="773.5" width="108.1" height="80.0" rx="13.3" fill="#5b9bd5" stroke="#41719c" stroke-width="0.8"/>
<rect x="780.1" y="537.1" width="100.8" height="84.8" rx="14.1" fill="#5b9bd5" stroke="#41719c" stroke-width="0.8"/>
<rect x="767.3" y="288.2" width="113.4" height="97.4" rx="16.2" fill="#5b9bd5" stroke="#41719c" stroke-width="0.8"/>
<rect x="1090.1" y="289.2" width="107.7" height="86.4" rx="14.4" fill="#5b9bd5" stroke="#41719c" stroke-width="0.8"/>
<rect x="1089.1" y="773.0" width="117.6" height="87.6" rx="14.6" fill="#5b9bd5" stroke="#41719c" stroke-width="0.8"/>
<polygon points="379.6,334.9 444.7,420.3 314.4,420.3" fill="#ffff00" stroke="#4a77a8" stroke-width="0.8"/>
<polygon points="385.1,596.2 471.3,691.0 299.3,691.0" fill="#ffff00" stroke="#4a77a8" stroke-width="0.8"/>
<polygon points="562.0,764.7 623.4,846.6 500.7,846.6" fill="#ffff00" stroke="#4a77a8" stroke-width="0.8"/>
<polygon points="834.2,665.9 908.5,735.2 760.2,735.2" fill="#ffff00" stroke="#4a77a8" stroke-width="0.8"/>
<polygon points="922.9,774.1 994.9,850.7 852.1,850.7" fill="#ffff00" stroke="#4a77a8" stroke-width="0.8"/>
<polygon points="825.0,410.2 882.4,502.3 767.2,502.3" fill="#ffff00" stroke="#4a77a8" stroke-width="0.8"/>
<polygon points="995.5,292.6 1059.7,385.5 931.6,385.5" fill="#ffff00" stroke="#4a77a8" stroke-width="0.8"/>
<polygon points="1154.4,512.3 1229.3,610.4 1079.3,610.4" fill="#ffff00" stroke="#4a77a8" stroke-width="0.8"/>
<line x1="436.1" y1="236.9" x2="513.7" y2="236.9" stroke="#000" stroke-width="2.2"/>
<line x1="380.0" y1="274.8" x2="380.0" y2="334.5" stroke="#000" stroke-width="2.2"/>
<line x1="380.0" y1="417.5" x2="380.0" y2="468.0" stroke="#000" stroke-width="2.2"/>
<line x1="433.0" y1="492.5" x2="486.2" y2="451.2" stroke="#000" stroke-width="2.2"/>
<line x1="433.8" y1="511.2" x2="487.0" y2="532.0" stroke="#000" stroke-width="2.2"/>
<line x1="379.0" y1="542.0" x2="379.2" y2="597.0" stroke="#000" stroke-width="2.2"/>
<line x1="380.2" y1="691.0" x2="381.1" y2="759.5" stroke="#000" stroke-width="2.2"/>
<line x1="437.7" y1="806.6" x2="526.0" y2="806.6" stroke="#000" stroke-width="2.2"/>
<line x1="599.4" y1="810.0" x2="661.5" y2="811.6" stroke="#000" stroke-width="2.2"/>
<line x1="710.9" y1="730.8" x2="710.9" y2="768.7" stroke="#000" stroke-width="2.2"/>
<line x1="764.1" y1="812.6" x2="885.9" y2="813.8" stroke="#000" stroke-width="2.2"/>
<line x1="961.8" y1="815.7" x2="1089.0" y2="816.7" stroke="#000" stroke-width="2.2"/>
<line x1="834.2" y1="620.4" x2="834.2" y2="665.9" stroke="#000" stroke-width="2.2"/>
<line x1="826.8" y1="494.1" x2="826.8" y2="537.3" stroke="#000" stroke-width="2.2"/>
<line x1="825.0" y1="387.1" x2="825.0" y2="410.2" stroke="#000" stroke-width="2.2"/>
<line x1="778.2" y1="244.0" x2="784.4" y2="285.8" stroke="#000" stroke-width="2.2"/>
<line x1="704.0" y1="340.0" x2="767.3" y2="340.0" stroke="#000" stroke-width="2.2"/>
<line x1="880.7" y1="324.7" x2="962.1" y2="327.2" stroke="#000" stroke-width="2.2"/>
<line x1="1033.0" y1="333.9" x2="1086.9" y2="333.9" stroke="#000" stroke-width="2.2"/>
<line x1="1147.2" y1="375.6" x2="1146.8" y2="525.3" stroke="#000" stroke-width="2.2"/>
<line x1="1149.0" y1="610.7" x2="1151.8" y2="771.1" stroke="#000" stroke-width="2.2"/>
<line x1="876.5" y1="242.8" x2="857.7" y2="288.1" stroke="#5b9bd5" stroke-width="1"/>
<rect x="968.0" y="328.8" width="2.8" height="4.2" fill="#ffff00"/>
<rect x="1020.2" y="328.8" width="2.8" height="4.2" fill="#ffff00"/>
<rect x="1115.3" y="558.7" width="3.4" height="6.6" fill="#ffff00"/>
<rect x="1189.3" y="559.3" width="2.0" height="2.0" fill="#ffff00"/>
<rect x="795.5" y="698.0" width="4.0" height="4.0" fill="#ffff00"/>
<g fill="#000"><text x="384.8" y="232.3" font-size="12.5" font-weight="bold" text-anchor="middle" textLength="58.8" lengthAdjust="spacingAndGlyphs">Company</text>
<text x="559.8" y="244.0" font-size="11" font-weight="bold" text-anchor="middle" textLength="33.0" lengthAdjust="spacingAndGlyphs">Name</text>
<text x="377.7" y="394.9" font-size="9.5" font-weight="bold" text-anchor="middle" textLength="43.3" lengthAdjust="spacingAndGlyphs">Produces</text>
<text x="381.2" y="506.2" font-size="12.5" font-weight="bold" text-anchor="middle" textLength="29.0" lengthAdjust="spacingAndGlyphs">Item</text>
<text x="528.8" y="438.0" font-size="11.5" font-weight="bold" text-anchor="middle" textLength="33.0" lengthAdjust="spacingAndGlyphs">Name</text>
<text x="526.5" y="538.8" font-size="12.5" font-weight="bold" text-anchor="middle" textLength="30.8" lengthAdjust="spacingAndGlyphs">Price</text>
<text x="385.1" y="663.9" font-size="12.5" font-weight="bold" text-anchor="middle" textLength="54.1" lengthAdjust="spacingAndGlyphs">Contains</text>
<text x="378.9" y="794.7" font-size="12.5" font-weight="bold" text-anchor="middle" textLength="58.8" lengthAdjust="spacingAndGlyphs">Shopping</text>
<text x="378.5" y="813.9" font-size="12.5" font-weight="bold" text-anchor="middle" textLength="25.7" lengthAdjust="spacingAndGlyphs">Cart</text>
<text x="561.7" y="825.9" font-size="12.5" font-weight="bold" text-anchor="middle" textLength="47.0" lengthAdjust="spacingAndGlyphs">Creates</text>
<text x="715.1" y="808.4" font-size="12.5" font-weight="bold" text-anchor="middle" textLength="42.0" lengthAdjust="spacingAndGlyphs">Orders</text>
<text x="696.2" y="681.9" font-size="12.5" font-weight="bold" text-anchor="middle" textLength="36.0" lengthAdjust="spacingAndGlyphs">Order</text>
<text x="696.8" y="699.7" font-size="12.5" font-weight="bold" text-anchor="middle" textLength="56.6" lengthAdjust="spacingAndGlyphs">Numbers</text>
<text x="830.1" y="573.8" font-size="12" font-weight="bold" text-anchor="middle" textLength="38.8" lengthAdjust="spacingAndGlyphs">Credit</text>
<text x="829.9" y="591.8" font-size="12" font-weight="bold" text-anchor="middle" textLength="34.2" lengthAdjust="spacingAndGlyphs">Cards</text>
<text x="831.1" y="716.8" font-size="12.5" font-weight="bold" text-anchor="middle" textLength="49.4" lengthAdjust="spacingAndGlyphs">Verifies</text>
<text x="922.8" y="829.5" font-size="12.5" font-weight="bold" text-anchor="middle" textLength="47.4" lengthAdjust="spacingAndGlyphs">Process</text>
<text x="820.2" y="476.0" font-size="12.5" font-weight="bold" text-anchor="middle" textLength="26.6" lengthAdjust="spacingAndGlyphs">HAS</text>
<text x="995.6" y="347.8" font-size="12.5" font-weight="bold" text-anchor="middle" textLength="27.4" lengthAdjust="spacingAndGlyphs">Ship</text>
<text x="995.7" y="365.9" font-size="12.5" font-weight="bold" text-anchor="middle" textLength="28.9" lengthAdjust="spacingAndGlyphs">Item</text>
<text x="1142.8" y="339.1" font-size="12.5" font-weight="bold" text-anchor="middle" textLength="54.9" lengthAdjust="spacingAndGlyphs">Shipping</text>
<text x="1152.7" y="575.7" font-size="10" font-weight="bold" text-anchor="middle" textLength="41.0" lengthAdjust="spacingAndGlyphs">Forward</text>
<text x="1153.1" y="590.7" font-size="10" font-weight="bold" text-anchor="middle" textLength="28.1" lengthAdjust="spacingAndGlyphs">Order</text>
<text x="1147.9" y="821.7" font-size="10" font-weight="bold" text-anchor="middle" textLength="70.0" lengthAdjust="spacingAndGlyphs">E-Commerce</text>
<text x="765.1" y="198.7" font-size="10.5" font-weight="bold" text-anchor="middle" textLength="44.9" lengthAdjust="spacingAndGlyphs">Address</text>
<text x="908.9" y="212.5" font-size="12.5" font-weight="bold" text-anchor="middle" textLength="33.9" lengthAdjust="spacingAndGlyphs">Email</text>
<text x="654.8" y="344.7" font-size="12.5" font-weight="bold" text-anchor="middle" textLength="36.6" lengthAdjust="spacingAndGlyphs">Name</text>
<text x="824.0" y="335.7" font-size="12.5" font-weight="bold" text-anchor="middle" textLength="61.0" lengthAdjust="spacingAndGlyphs">Customer</text></g>
</svg>
<!--/DIAGRAM-->
</body></html>
